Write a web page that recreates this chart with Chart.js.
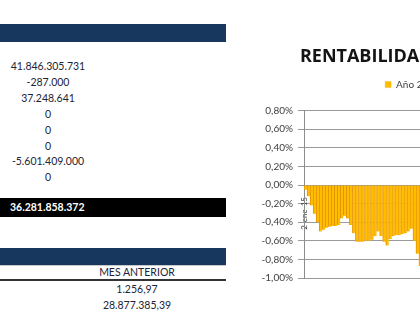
<!DOCTYPE html>
<html>
<head>
<meta charset="utf-8">
<script src="https://cdn.jsdelivr.net/npm/chart.js@4.4.1/dist/chart.umd.min.js"></script>
<style>
  html, body { margin: 0; padding: 0; background: #fff; }
  body { width: 420px; height: 336px; overflow: hidden; position: relative; font-family: Lato, "Open Sans", sans-serif; }
  .banda { position: absolute; left: 0; width: 226px; background: #17375e; }
  .num { position: absolute; left: 0; width: 96px; text-align: center; font-size: 10.5px; color: #1d2435; line-height: 16px; white-space: nowrap; }
  .total { position: absolute; left: 0; top: 198px; width: 226px; height: 19px; background: #000; color: #fff; font-weight: bold; font-size: 10.5px; line-height: 19px; text-indent: 10px; }
  .col2 { position: absolute; left: 82px; width: 110px; text-align: center; font-size: 10.5px; color: #1d2435; line-height: 16px; white-space: nowrap; }
  #wrap { position: absolute; left: 232px; top: 30px; }
</style>
</head>
<body>
<div class="banda" style="top:24px;height:18px"></div>
<div id="filas"></div>
<div class="total" id="total"></div>
<div class="banda" style="top:248px;height:17px"></div>
<div style="position:absolute;left:0;top:265px;width:226px;height:1px;background:#c8c8c8"></div>
<div id="mes"></div>
<div style="position:absolute;left:0;top:279px;width:226px;height:2px;background:#333"></div>
<div id="wrap"><canvas id="rentChart" width="361" height="259"></canvas></div>

<script>
// Tabla de la izquierda
const movimientos = ['41.846.305.731', '-287.000', '37.248.641', '0', '0', '0', '-5.601.409.000', '0'];
const totalPatrimonio = '36.281.858.372';
const mesAnteriorTitulo = 'MES ANTERIOR';
const mesAnterior = ['1.256,97', '28.877.385,39'];

// Grafico de rentabilidad
const fechas = ['2-ene-15', '5-ene-15', '6-ene-15', '7-ene-15', '8-ene-15', '9-ene-15', '12-ene-15',
  '13-ene-15', '14-ene-15', '15-ene-15', '16-ene-15', '19-ene-15', '20-ene-15', '21-ene-15',
  '22-ene-15', '23-ene-15', '26-ene-15', '27-ene-15', '28-ene-15', '29-ene-15', '30-ene-15',
  '2-feb-15', '3-feb-15', '4-feb-15', '5-feb-15', '6-feb-15', '9-feb-15', '10-feb-15',
  '11-feb-15', '12-feb-15', '13-feb-15', '16-feb-15', '17-feb-15', '18-feb-15', '19-feb-15',
  '20-feb-15', '23-feb-15', '24-feb-15', '25-feb-15'];
const rentabilidad = [-0.05, -0.12, -0.22, -0.31, -0.40, -0.50, -0.48, -0.46, -0.45, -0.44,
  -0.44, -0.43, -0.36, -0.33, -0.36, -0.43, -0.52, -0.61, -0.61, -0.61, -0.60, -0.60, -0.59,
  -0.55, -0.50, -0.55, -0.61, -0.65, -0.58, -0.55, -0.54, -0.54, -0.53, -0.52, -0.50, -0.47,
  -0.60, -0.74, -0.87];
const serie = 'Año 2015';

const filas = document.getElementById('filas');
movimientos.forEach((v, i) => {
  const d = document.createElement('div');
  d.className = 'num';
  d.style.top = (58 + i * 15.9) + 'px';
  d.textContent = v;
  filas.appendChild(d);
});
document.getElementById('total').textContent = totalPatrimonio;
const mes = document.getElementById('mes');
[mesAnteriorTitulo].concat(mesAnterior).forEach((v, i) => {
  const d = document.createElement('div');
  d.className = 'col2';
  d.style.top = (i === 0 ? 264 : 281 + (i - 1) * 16) + 'px';
  d.textContent = v;
  mes.appendChild(d);
});

const ctx = document.getElementById('rentChart').getContext('2d');
const gris = '#404040';

new Chart(ctx, {
  type: 'bar',
  data: {
    labels: fechas,
    datasets: [{
      label: serie,
      data: rentabilidad,
      backgroundColor: '#FFBE00',
      borderColor: '#E69000',
      borderWidth: { left: 1, right: 0, top: 0, bottom: 0 },
      borderSkipped: false,
      barPercentage: 1,
      categoryPercentage: 1
    }]
  },
  options: {
    responsive: false,
    animation: false,
    layout: { padding: { top: 0, bottom: 2, left: 0, right: 0 } },
    plugins: {
      title: {
        display: true,
        text: 'RENTABILIDAD MENSUAL',
        color: '#141414',
        font: { family: 'Open Sans', size: 18, weight: 'bold' },
        padding: { top: 16, bottom: 4 }
      },
      legend: {
        display: true,
        labels: {
          boxWidth: 6,
          boxHeight: 6,
          color: gris,
          font: { family: 'Lato', size: 10 },
          padding: 8
        }
      },
      tooltip: { enabled: false }
    },
    scales: {
      x: {
        position: { y: 0 },
        grid: { display: false },
        border: { display: false },
        ticks: {
          autoSkip: false,
          minRotation: 90,
          maxRotation: 90,
          padding: 4,
          labelOffset: -1,
          color: gris,
          font: { family: 'Lato', size: 8 },
          callback: (v, i) => (i === 0 ? fechas[i] : '')
        }
      },
      // ejes vacios: dejan el area del grafico en el mismo sitio y cortada como en la captura
      xt: {
        position: 'top',
        grid: { display: false },
        border: { display: false },
        ticks: { display: false },
        afterFit: s => { s.height = 11; }
      },
      y: {
        min: -1,
        max: 0.8,
        grid: { color: '#9a9a9a', tickLength: 6 },
        border: { color: '#8c8c8c' },
        ticks: {
          stepSize: 0.2,
          padding: 5,
          color: gris,
          font: { family: 'Lato', size: 10 },
          callback: v => (Math.round(v * 100) / 100).toFixed(2).replace('.', ',') + '%'
        },
        afterFit: s => { s.width = 72; }
      },
      yr: {
        position: 'right',
        grid: { display: false },
        border: { display: false },
        ticks: { display: false },
        afterFit: s => { s.width = 171; }
      }
    }
  }
});
</script>
</body>
</html>
